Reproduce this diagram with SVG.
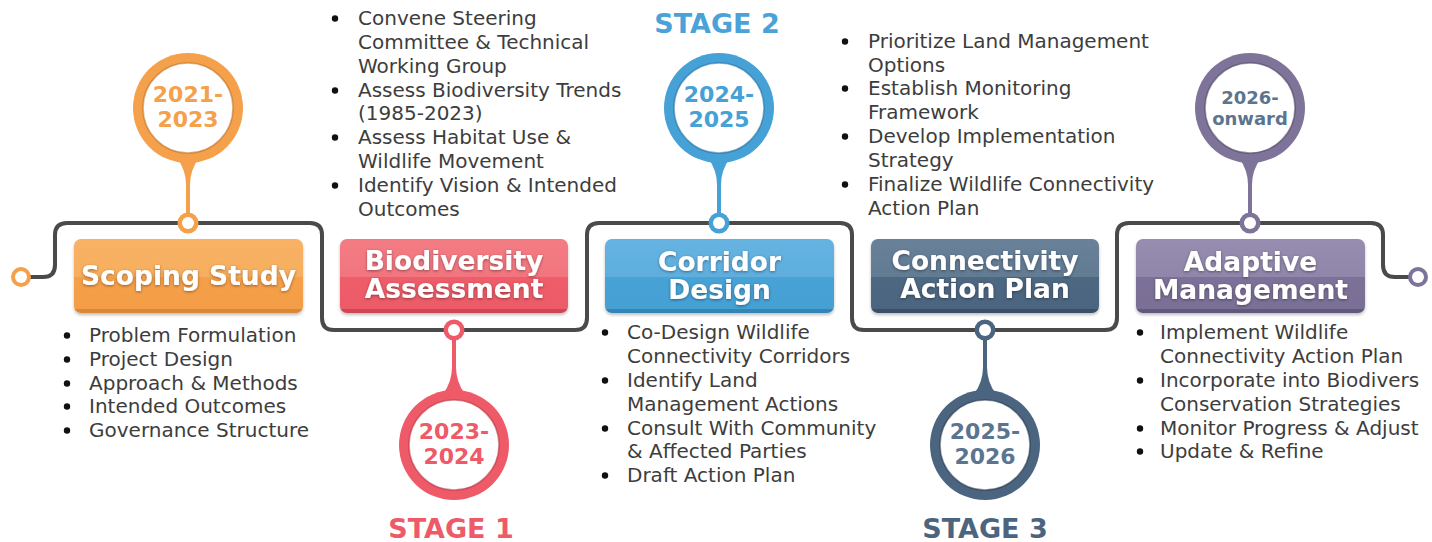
<svg xmlns="http://www.w3.org/2000/svg" width="1432" height="542" viewBox="0 0 1432 542">
<defs>
<style>
.body{font-family:"DejaVu Sans","Liberation Sans",sans-serif;font-size:20px;fill:#3d3d3d}
.title{font-family:"DejaVu Sans","Liberation Sans",sans-serif;font-weight:bold;font-size:26.5px;fill:#ffffff;text-anchor:middle}
.year{font-family:"DejaVu Sans","Liberation Sans",sans-serif;font-weight:bold;font-size:22px;text-anchor:middle}
.stage{font-family:"DejaVu Sans","Liberation Sans",sans-serif;font-weight:bold;font-size:27px;text-anchor:middle}
.bul{fill:#111111}
.line{fill:none;stroke:#4a4a4a;stroke-width:4}
.inner{fill:#ffffff;stroke-width:1.6;stroke-opacity:0.55}
</style>
<linearGradient id="gO" x1="0" y1="0" x2="0" y2="1"><stop offset="0" stop-color="#F8B266"/><stop offset="0.51" stop-color="#F7AE5E"/><stop offset="0.51" stop-color="#F5A049"/><stop offset="0.95" stop-color="#F39D46"/><stop offset="0.95" stop-color="#D98838"/><stop offset="1" stop-color="#D98838"/></linearGradient>
<linearGradient id="gR" x1="0" y1="0" x2="0" y2="1"><stop offset="0" stop-color="#F37C84"/><stop offset="0.51" stop-color="#F2757E"/><stop offset="0.51" stop-color="#EE5D69"/><stop offset="0.95" stop-color="#EC5B67"/><stop offset="0.95" stop-color="#CF4553"/><stop offset="1" stop-color="#CF4553"/></linearGradient>
<linearGradient id="gB" x1="0" y1="0" x2="0" y2="1"><stop offset="0" stop-color="#66B3E1"/><stop offset="0.51" stop-color="#5EAEDE"/><stop offset="0.51" stop-color="#47A2D6"/><stop offset="0.95" stop-color="#45A0D4"/><stop offset="0.95" stop-color="#3584B6"/><stop offset="1" stop-color="#3584B6"/></linearGradient>
<linearGradient id="gS" x1="0" y1="0" x2="0" y2="1"><stop offset="0" stop-color="#688199"/><stop offset="0.51" stop-color="#627B93"/><stop offset="0.51" stop-color="#4E6781"/><stop offset="0.95" stop-color="#4C6580"/><stop offset="0.95" stop-color="#3A5068"/><stop offset="1" stop-color="#3A5068"/></linearGradient>
<linearGradient id="gP" x1="0" y1="0" x2="0" y2="1"><stop offset="0" stop-color="#978DB0"/><stop offset="0.51" stop-color="#9086A9"/><stop offset="0.51" stop-color="#7C7198"/><stop offset="0.95" stop-color="#7A6F96"/><stop offset="0.95" stop-color="#62587C"/><stop offset="1" stop-color="#62587C"/></linearGradient>
<filter id="boxsh" x="-10%" y="-20%" width="120%" height="150%"><feDropShadow dx="0" dy="2" stdDeviation="1.5" flood-color="#000" flood-opacity="0.25"/></filter>
<filter id="txtsh" x="-10%" y="-30%" width="120%" height="160%"><feDropShadow dx="0" dy="1" stdDeviation="1.5" flood-color="#000" flood-opacity="0.4"/></filter>
</defs>
<rect width="1432" height="542" fill="#ffffff"/>

<g id="connectors">
<path class="line" d="M 30 277 H 43 Q 55 277 55 265 V 235 Q 55 223 67 223 H 310 Q 322 223 322 235 V 318 Q 322 330 334 330 H 575 Q 587 330 587 318 V 235 Q 587 223 599 223 H 840 Q 852 223 852 235 V 318 Q 852 330 864 330 H 1105 Q 1117 330 1117 318 V 235 Q 1117 223 1129 223 H 1371 Q 1383 223 1383 235 V 265 Q 1383 277 1395 277 H 1410"/>
<circle cx="21" cy="277" r="10" fill="#F5A04A"/><circle cx="21" cy="277" r="6" fill="#fff"/>
<circle cx="1418" cy="277" r="10" fill="#7E7399"/><circle cx="1418" cy="277" r="6" fill="#fff"/>
</g>

<g id="n-scoping">
<path d="M 177 158 Q 186 170 186 185 V 215 H 190 V 185 Q 190 170 199 158 Z" fill="#F5A04A"/>
<circle cx="188" cy="108" r="55" fill="#F5A04A"/>
<circle class="inner" cx="188" cy="108" r="45" stroke="#B86E22"/>
<text class="year" fill="#F5A04A"><tspan x="188" y="102">2021-</tspan><tspan x="188" y="127">2023</tspan></text>
<circle cx="188" cy="223" r="10.5" fill="#F5A04A"/><circle cx="188" cy="223" r="6" fill="#fff"/>
<rect x="74" y="239" width="229" height="74" rx="7" fill="url(#gO)" filter="url(#boxsh)"/>
<text class="title" x="188.5" y="285" filter="url(#txtsh)">Scoping Study</text>
<g class="bul"><circle cx="67" cy="335.5" r="3.2"/><circle cx="67" cy="359.5" r="3.2"/><circle cx="67" cy="383.5" r="3.2"/><circle cx="67" cy="406.5" r="3.2"/><circle cx="67" cy="430.5" r="3.2"/></g>
<text class="body"><tspan x="89" y="342">Problem Formulation</tspan><tspan x="89" y="366">Project Design</tspan><tspan x="89" y="390">Approach &amp; Methods</tspan><tspan x="89" y="413">Intended Outcomes</tspan><tspan x="89" y="437">Governance Structure</tspan></text>
</g>

<g id="n-biodiv">
<path d="M 443 394 Q 452 382 452 367 V 338 H 456 V 367 Q 456 382 465 394 Z" fill="#EE5A68"/>
<circle cx="454" cy="330" r="10.5" fill="#EE5A68"/><circle cx="454" cy="330" r="6" fill="#fff"/>
<circle cx="454" cy="445" r="55" fill="#EE5A68"/>
<circle class="inner" cx="454" cy="445" r="45" stroke="#B43442"/>
<text class="year" fill="#EE5A68"><tspan x="454" y="439">2023-</tspan><tspan x="454" y="464">2024</tspan></text>
<rect x="340" y="239" width="228" height="74" rx="7" fill="url(#gR)" filter="url(#boxsh)"/>
<text class="title" filter="url(#txtsh)"><tspan x="454" y="270">Biodiversity</tspan><tspan x="454" y="298">Assessment</tspan></text>
<text class="stage" x="451" y="538" fill="#EE5A68">STAGE 1</text>
<g class="bul"><circle cx="335" cy="18.5" r="3.2"/><circle cx="335" cy="90.5" r="3.2"/><circle cx="335" cy="137.5" r="3.2"/><circle cx="335" cy="185.5" r="3.2"/></g>
<text class="body"><tspan x="358" y="25">Convene Steering</tspan><tspan x="358" y="49">Committee &amp; Technical</tspan><tspan x="358" y="73">Working Group</tspan><tspan x="358" y="97">Assess Biodiversity Trends</tspan><tspan x="358" y="120">(1985-2023)</tspan><tspan x="358" y="144">Assess Habitat Use &amp;</tspan><tspan x="358" y="168">Wildlife Movement</tspan><tspan x="358" y="192">Identify Vision &amp; Intended</tspan><tspan x="358" y="216">Outcomes</tspan></text>
</g>

<g id="n-corridor">
<path d="M 708 158 Q 717 170 717 185 V 215 H 721 V 185 Q 721 170 730 158 Z" fill="#45A1D6"/>
<circle cx="719" cy="108" r="55" fill="#45A1D6"/>
<circle class="inner" cx="719" cy="108" r="45" stroke="#1F6E9E"/>
<text class="year" fill="#45A1D6"><tspan x="719" y="102">2024-</tspan><tspan x="719" y="127">2025</tspan></text>
<circle cx="719" cy="223" r="10.5" fill="#45A1D6"/><circle cx="719" cy="223" r="6" fill="#fff"/>
<text class="stage" x="717" y="33" fill="#4AA3D8">STAGE 2</text>
<rect x="605" y="239" width="229" height="74" rx="7" fill="url(#gB)" filter="url(#boxsh)"/>
<text class="title" filter="url(#txtsh)"><tspan x="719.5" y="271">Corridor</tspan><tspan x="719.5" y="299">Design</tspan></text>
<g class="bul"><circle cx="605" cy="332.5" r="3.2"/><circle cx="605" cy="380.5" r="3.2"/><circle cx="605" cy="428.5" r="3.2"/><circle cx="605" cy="475.5" r="3.2"/></g>
<text class="body"><tspan x="627" y="339">Co-Design Wildlife</tspan><tspan x="627" y="363">Connectivity Corridors</tspan><tspan x="627" y="387">Identify Land</tspan><tspan x="627" y="411">Management Actions</tspan><tspan x="627" y="435">Consult With Community</tspan><tspan x="627" y="458">&amp; Affected Parties</tspan><tspan x="627" y="482">Draft Action Plan</tspan></text>
</g>

<g id="n-connect">
<path d="M 974 394 Q 983 382 983 367 V 338 H 987 V 367 Q 987 382 996 394 Z" fill="#4B6580"/>
<circle cx="985" cy="330" r="10.5" fill="#4B6580"/><circle cx="985" cy="330" r="6" fill="#fff"/>
<circle cx="985" cy="445" r="55" fill="#4B6580"/>
<circle class="inner" cx="985" cy="445" r="45" stroke="#253548"/>
<text class="year" fill="#5A7590"><tspan x="985" y="439">2025-</tspan><tspan x="985" y="464">2026</tspan></text>
<rect x="871" y="239" width="228" height="74" rx="7" fill="url(#gS)" filter="url(#boxsh)"/>
<text class="title" filter="url(#txtsh)"><tspan x="985" y="270">Connectivity</tspan><tspan x="985" y="298">Action Plan</tspan></text>
<text class="stage" x="985" y="538" fill="#4B6580">STAGE 3</text>
<g class="bul"><circle cx="845" cy="41.5" r="3.2"/><circle cx="845" cy="88.5" r="3.2"/><circle cx="845" cy="136.5" r="3.2"/><circle cx="845" cy="184.5" r="3.2"/></g>
<text class="body"><tspan x="868" y="48">Prioritize Land Management</tspan><tspan x="868" y="72">Options</tspan><tspan x="868" y="95">Establish Monitoring</tspan><tspan x="868" y="119">Framework</tspan><tspan x="868" y="143">Develop Implementation</tspan><tspan x="868" y="167">Strategy</tspan><tspan x="868" y="191">Finalize Wildlife Connectivity</tspan><tspan x="868" y="215">Action Plan</tspan></text>
</g>

<g id="n-adaptive">
<path d="M 1239 158 Q 1248 170 1248 185 V 215 H 1252 V 185 Q 1252 170 1261 158 Z" fill="#7E7399"/>
<circle cx="1250" cy="108" r="55" fill="#7E7399"/>
<circle class="inner" cx="1250" cy="108" r="45" stroke="#4A405F"/>
<text class="year" fill="#5B7590" style="font-size:18px"><tspan x="1250" y="104">2026-</tspan><tspan x="1250" y="125">onward</tspan></text>
<circle cx="1250" cy="223" r="10.5" fill="#7E7399"/><circle cx="1250" cy="223" r="6" fill="#fff"/>
<rect x="1136" y="239" width="229" height="74" rx="7" fill="url(#gP)" filter="url(#boxsh)"/>
<text class="title" filter="url(#txtsh)"><tspan x="1250.5" y="271">Adaptive</tspan><tspan x="1250.5" y="299">Management</tspan></text>
<g class="bul"><circle cx="1140" cy="332.5" r="3.2"/><circle cx="1140" cy="380.5" r="3.2"/><circle cx="1140" cy="428.5" r="3.2"/><circle cx="1140" cy="451.5" r="3.2"/></g>
<text class="body"><tspan x="1160" y="339">Implement Wildlife</tspan><tspan x="1160" y="363">Connectivity Action Plan</tspan><tspan x="1160" y="387">Incorporate into Biodivers</tspan><tspan x="1160" y="411">Conservation Strategies</tspan><tspan x="1160" y="435">Monitor Progress &amp; Adjust</tspan><tspan x="1160" y="458">Update &amp; Refine</tspan></text>
</g>
</svg>
